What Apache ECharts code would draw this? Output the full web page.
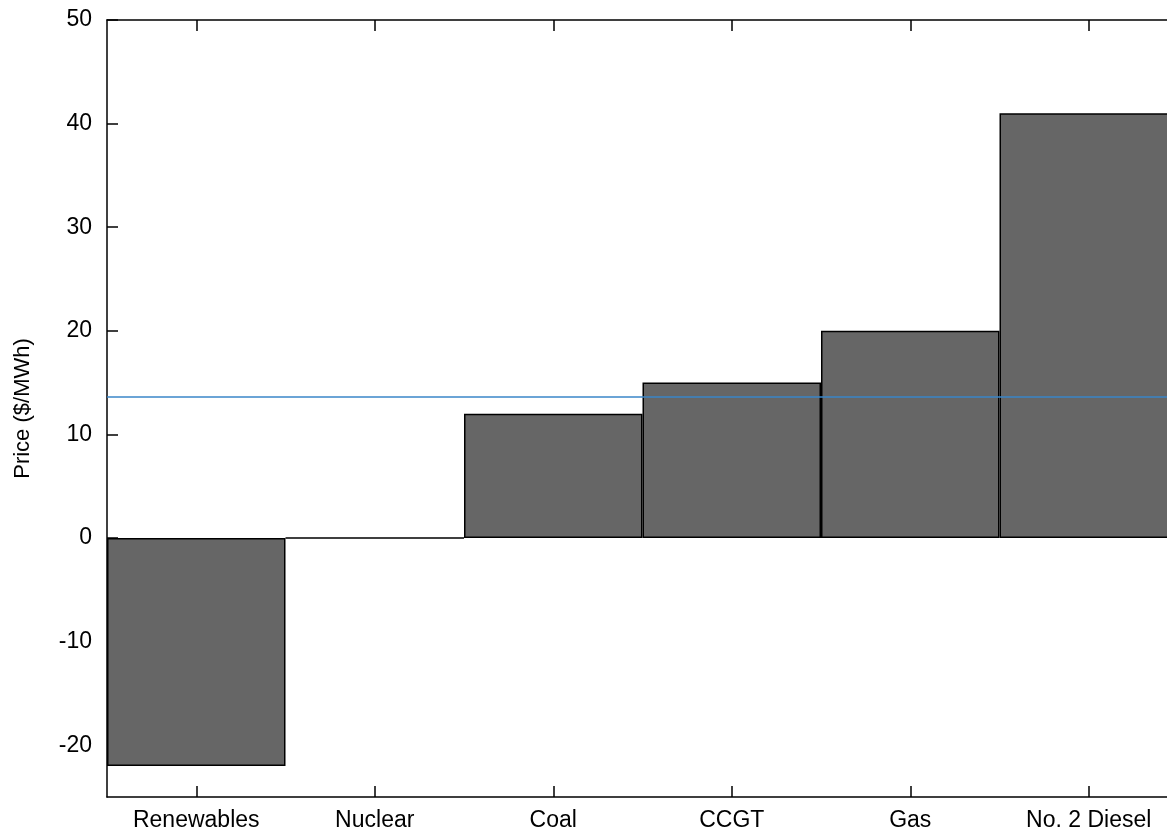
<!DOCTYPE html>
<html>
<head>
<meta charset="utf-8">
<script src="https://cdn.jsdelivr.net/npm/echarts@6/dist/echarts.min.js"></script>
<style>html,body{margin:0;padding:0;background:#fff;}#c{width:1167px;height:833px;}</style>
</head>
<body>
<div id="c"></div>
<script>
const categories = ['Renewables', 'Nuclear', 'Coal', 'CCGT', 'Gas', 'No. 2 Diesel'];
const prices = [-22, 0, 12, 15, 20, 41];
const marketPrice = 13.65;
const yMin = -25;
const yMax = 50;
const yTickValues = [-20, -10, 0, 10, 20, 30, 40, 50];

const chart = echarts.init(document.getElementById('c'));
const font = 'Liberation Sans, Arial, Helvetica, sans-serif';
const axisLine = { show: true, onZero: false, lineStyle: { color: '#000', width: 1.5 } };
const tick = { show: true, inside: true, length: 11, lineStyle: { color: '#000', width: 1.5 } };
chart.setOption({
  animation: false,
  grid: { left: 107, top: 20, right: -11, bottom: 36, outerBoundsMode: 'none', containLabel: false },
  xAxis: [{
    type: 'category', data: categories, position: 'bottom',
    axisLine: axisLine,
    axisTick: Object.assign({ alignWithLabel: true }, tick),
    axisLabel: { fontSize: 23, fontFamily: font, color: '#000', margin: 12 },
    splitLine: { show: false }
  }, {
    type: 'category', data: categories, position: 'top',
    axisLine: axisLine,
    axisTick: Object.assign({ alignWithLabel: true }, tick),
    axisLabel: { show: false }
  }],
  yAxis: [{
    type: 'value', min: yMin, max: yMax,
    name: 'Price ($/MWh)', nameLocation: 'middle', nameGap: 73,
    nameTextStyle: { fontSize: 22, fontFamily: font, color: '#000' },
    axisLine: axisLine,
    axisTick: Object.assign({ customValues: yTickValues }, tick),
    axisLabel: { customValues: yTickValues, fontSize: 23, fontFamily: font, color: '#000', margin: 15 },
    splitLine: { show: false }
  }],
  series: [{
    type: 'bar', data: prices, barCategoryGap: '0%',
    itemStyle: { color: '#666666', borderColor: '#000', borderWidth: 1.5 },
    markLine: {
      silent: true, symbol: 'none', label: { show: false },
      lineStyle: { color: '#3a86c8', width: 1.5, type: 'solid' },
      data: [{ yAxis: marketPrice }]
    }
  }]
});
</script>
</body>
</html>
